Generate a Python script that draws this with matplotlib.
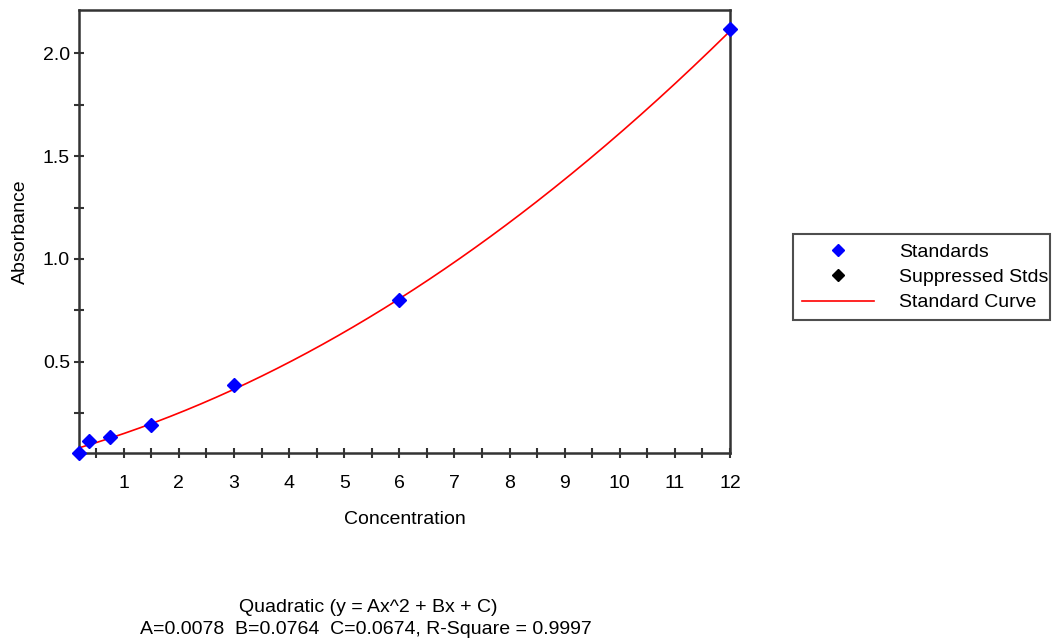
import numpy as np
import matplotlib.pyplot as plt
from matplotlib.lines import Line2D

plt.rcParams['font.family'] = ['Liberation Sans', 'DejaVu Sans']

# standards
conc = [0.1875, 0.375, 0.75, 1.5, 3.0, 6.0, 12.0]
absorbance = [0.057, 0.117, 0.135, 0.194, 0.389, 0.802, 2.119]

# quadratic fit coefficients as printed under the chart
A, B, C = 0.0078, 0.0764, 0.0674
R_SQUARE = 0.9997

x_ticks = np.arange(0.5, 12.01, 0.5)
x_labels = [f'{t:g}' if t == int(t) else '' for t in x_ticks]
y_ticks = np.arange(0.25, 2.01, 0.25)
y_labels = [f'{t:.1f}' if abs(t * 2 - round(t * 2)) < 1e-9 else '' for t in y_ticks]

fig = plt.figure(figsize=(10.56, 6.44), dpi=100)
ax = fig.add_axes([79 / 1056, 1 - 453 / 644, (730 - 79) / 1056, (453 - 10) / 644])

xs = np.linspace(conc[0], conc[-1], 300)
ax.plot(xs, A * xs**2 + B * xs + C, color='red', lw=1.2, zorder=2)
ax.plot(conc, absorbance, 'D', color='blue', ms=7, zorder=3, clip_on=False)

ax.set_xlim(0.1875, 12)
ax.set_ylim(0.057, 2.21)
ax.set_xticks(x_ticks)
ax.set_xticklabels(x_labels)
ax.set_yticks(y_ticks)
ax.set_yticklabels(y_labels)
ax.tick_params(direction='inout', length=7, width=1.5, labelsize=14, color='#333333')
ax.tick_params(axis='x', pad=12)
ax.tick_params(axis='y', pad=3)

for s in ax.spines.values():
    s.set_linewidth(1.8)
    s.set_color('#333333')

ax.set_xlabel('Concentration', fontsize=14, labelpad=14)
ax.set_ylabel('Absorbance', fontsize=14, labelpad=10)

handles = [
    Line2D([], [], ls='none', marker='D', color='blue', ms=6),
    Line2D([], [], ls='none', marker='D', color='black', ms=6),
    Line2D([], [], color='red', lw=1.2),
]
labels = ['Standards', 'Suppressed Stds', 'Standard Curve']
fig.legend(handles, labels, loc='upper left',
           bbox_to_anchor=(793 / 1056, 1 - 235 / 644, 257 / 1056, 0.001),
           mode='expand', frameon=True, fancybox=False, edgecolor='#222222',
           fontsize=14, handlelength=3.7, handletextpad=1.3, labelspacing=0.4,
           borderpad=0.45, borderaxespad=0)
fig.legends[0].get_frame().set_linewidth(1.5)

fig.text(368 / 1056, 1 - 607 / 644, 'Quadratic (y = Ax^2 + Bx + C)',
         ha='center', va='center', fontsize=14)
fig.text(366 / 1056, 1 - 630 / 644,
         f'A={A:.4f}  B={B:.4f}  C={C:.4f}, R-Square = {R_SQUARE:.4f}',
         ha='center', va='center', fontsize=14)

fig.savefig('out.png', dpi=100)
